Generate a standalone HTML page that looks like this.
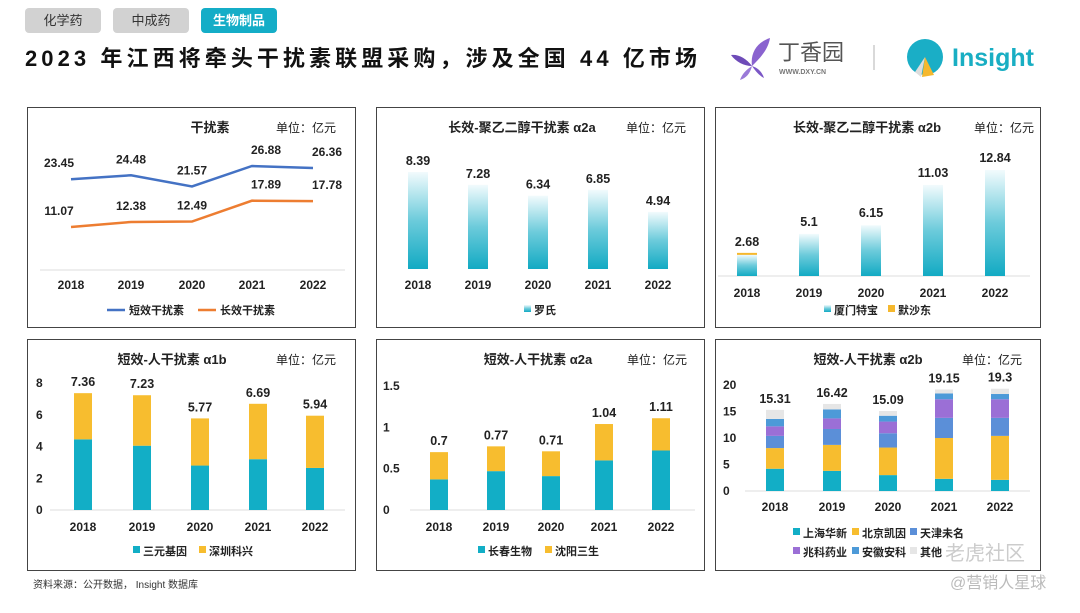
<!DOCTYPE html>
<html><head><meta charset="utf-8">
<style>
html,body{margin:0;padding:0;background:#fff;}
body{width:1080px;height:608px;overflow:hidden;font-family:"Liberation Sans","Noto Sans CJK SC",sans-serif;}
svg text{font-family:"Liberation Sans","Noto Sans CJK SC",sans-serif;}
</style></head>
<body>
<svg id="s" width="1080" height="608" viewBox="0 0 1080 608" xmlns="http://www.w3.org/2000/svg">
<defs>
<linearGradient id="tg" x1="0" y1="1" x2="0" y2="0">
<stop offset="0" stop-color="#12aac3"/><stop offset="0.5" stop-color="#6ccbdb"/><stop offset="1" stop-color="#f2fbfd"/>
</linearGradient>
</defs>
<g><rect x="25" y="8" width="76" height="25" rx="4" fill="#d2d2d2"/><text x="63" y="25" font-size="13" text-anchor="middle" fill="#333">化学药</text></g>
<g><rect x="113" y="8" width="76" height="25" rx="4" fill="#d2d2d2"/><text x="151" y="25" font-size="13" text-anchor="middle" fill="#333">中成药</text></g>
<g><rect x="201" y="8" width="76" height="25" rx="4" fill="#14adc7"/><text x="239" y="25" font-size="13" font-weight="bold" text-anchor="middle" fill="#fff">生物制品</text></g>
<text x="25" y="66" font-size="22" font-weight="bold" fill="#111" textLength="672" lengthAdjust="spacing">2023 年江西将牵头干扰素联盟采购，涉及全国 44 亿市场</text>
<g>
<path d="M770,38 C758,42 750,52 752,66 C760,58 768,50 770,38Z" fill="#8a63cf"/>
<path d="M752,66 C746,58 738,54 731,55 C736,62 744,66 752,66Z" fill="#6e4bb8"/>
<path d="M752,66 C746,70 742,74 740,80 C746,78 750,74 752,66Z" fill="#9a7ad8"/>
<path d="M752,66 C756,72 760,76 764,78 C762,72 758,68 752,66Z" fill="#7b57c6"/>
<text x="778" y="60" font-size="22" fill="#555">丁香园</text>
<text x="779" y="74" font-size="7" font-weight="bold" fill="#777">WWW.DXY.CN</text>
</g>
<line x1="874" y1="45" x2="874" y2="70" stroke="#ccc" stroke-width="1.5"/>
<g>
<circle cx="925" cy="57" r="18" fill="#1aaec6"/>
<path d="M925,57 L921,77 L915,72Z" fill="#ddd"/>
<path d="M925,57 L934,75 L922,77Z" fill="#f5b82e"/>
<text x="952" y="66" font-size="25" font-weight="bold" fill="#19aec3">Insight</text>
</g>
<rect x="27.5" y="107.5" width="328" height="220" fill="none" stroke="#444"/>
<rect x="376.5" y="107.5" width="328" height="220" fill="none" stroke="#444"/>
<rect x="715.5" y="107.5" width="325" height="220" fill="none" stroke="#444"/>
<rect x="27.5" y="339.5" width="328" height="231" fill="none" stroke="#444"/>
<rect x="376.5" y="339.5" width="328" height="231" fill="none" stroke="#444"/>
<rect x="715.5" y="339.5" width="325" height="231" fill="none" stroke="#444"/>
<text x="33" y="588" font-size="10" fill="#333">资料来源：公开数据， Insight 数据库</text>
<text x="950" y="588" font-size="16" fill="#bbb">@营销人星球</text>
<text x="945" y="560" font-size="20" fill="#ccc">老虎社区</text>
<g id="charts"></g>
</svg>
<script>
const years = ["2018","2019","2020","2021","2022"];
const shortIfn = [23.45,24.48,21.57,26.88,26.36];
const longIfn = [11.07,12.38,12.49,17.89,17.78];
const rocheA2a = [8.39,7.28,6.34,6.85,4.94];
const amoytopA2b = [2.58,5.1,6.15,11.03,12.84];
const msdA2b = [0.10,0,0,0,0];
const p3Totals = [2.68,5.1,6.15,11.03,12.84];
const sanyuan = [4.45,4.05,2.8,3.2,2.65];
const kexing = [2.91,3.18,2.97,3.49,3.29];
const p4Totals = [7.36,7.23,5.77,6.69,5.94];
const p4Ticks = [0,2,4,6,8];
const changchun = [0.37,0.47,0.41,0.6,0.72];
const shenyang = [0.33,0.30,0.30,0.44,0.39];
const p5Totals = [0.7,0.77,0.71,1.04,1.11];
const p5Ticks = [0,0.5,1,1.5];
const p5TickLabels = ["0","0.5","1","1.5"];
const shHuaxin = [4.2,3.8,3.0,2.3,2.1];
const bjKaiyin = [3.9,4.9,5.2,7.7,8.3];
const tjWeiming = [2.3,3.0,2.7,3.8,3.4];
const zhaoke = [1.8,2.0,2.2,3.5,3.5];
const ahAnke = [1.4,1.7,1.1,1.1,1.0];
const others = [1.71,1.02,0.89,0.75,1.0];
const p6Totals = [15.31,16.42,15.09,19.15,19.3];
const p6Ticks = [0,5,10,15,20];

const NS="http://www.w3.org/2000/svg";
const root=document.getElementById('charts');
function mk(tag,attrs,parent){const e=document.createElementNS(NS,tag);for(const k in attrs)e.setAttribute(k,attrs[k]);(parent||root).appendChild(e);return e;}
function txt(x,y,s,size,opts,parent){const t=mk('text',Object.assign({x:x,y:y,'font-size':size,'font-weight':'bold','text-anchor':'middle',fill:'#222'},opts||{}),parent);t.textContent=s;return t;}
function lin(d0,d1,r0,r1){return v=>r0+(v-d0)*(r1-r0)/(d1-d0);}

function header(cx,title,unitX,y){
  const t=txt(cx,y,title,13);
  
  
  const u=txt(unitX,y,'单位：亿元',12,{'font-weight':'normal','text-anchor':'start'});
  
  
}
function xlabels(xs,y){years.forEach((yr,i)=>{const t=txt(xs[i],y,yr,12);});}
function legend(items,y){items.forEach(it=>{
  const g=mk('g',{});
  
  
  if(it.line){mk('line',{x1:it.x,y1:y-4,x2:it.x+18,y2:y-4,stroke:it.c,'stroke-width':2.5},g);txt(it.x+22,y,it.t,11,{'text-anchor':'start'},g);}
  else{mk('rect',{x:it.x,y:y-9,width:7,height:7,fill:it.c},g);txt(it.x+10,y,it.t,11,{'text-anchor':'start'},g);}
});}
function stacked(xs,series,colors,names,ys,w,totals){
  years.forEach((yr,i)=>{let acc=0;series.forEach((s,k)=>{const v=s[i];if(v<=0)return;const y0=ys(acc),y1=ys(acc+v);
    const r=mk('rect',{x:xs[i]-w/2,y:y1,width:w,height:y0-y1,fill:colors[k]});
    
    
    acc+=v;});
    const t=txt(xs[i],ys(totals[i])-7,String(totals[i]),12.5);
    
    
  });
}
function yticks(ticks,labels,ys,x){ticks.forEach((v,i)=>{const t=txt(x,ys(v)+4,labels[i],12,{'text-anchor':'start'});});}

(function(){
  const xs=[71,131,192,252,313];
  const ys=lin(11.07,26.88,227,166);
  const offs=[-12,0,0,14,14];
  header(210,'干扰素',276,132);
  [[shortIfn,'#4472c4','short'],[longIfn,'#ed7d31','long']].forEach(([d,c,n])=>{
    const p=mk('polyline',{points:d.map((v,i)=>xs[i]+','+ys(v)).join(' '),fill:'none',stroke:c,'stroke-width':2.5});
    
    
    d.forEach((v,i)=>{const t=txt(xs[i]+offs[i],ys(v)-12,String(v),12);});
  });
  mk('line',{x1:40,y1:270,x2:345,y2:270,stroke:'#ddd'});
  xlabels(xs,289);
  legend([{x:107,t:'短效干扰素',c:'#4472c4',line:1,n:'short'},{x:198,t:'长效干扰素',c:'#ed7d31',line:1,n:'long'}],314);
})();

(function(){
  const xs=[418,478,538,598,658];
  const ys=lin(0,8.39,269,172);
  header(522,'长效-聚乙二醇干扰素 α2a',626,132);
  rocheA2a.forEach((v,i)=>{const r=mk('rect',{x:xs[i]-10,y:ys(v),width:20,height:ys(0)-ys(v),fill:'url(#tg)'});
    
    const t=txt(xs[i],ys(v)-7,String(v),12.5);});
  xlabels(xs,289);
  legend([{x:524,t:'罗氏',c:'url(#tg)',n:'roche'}],314);
})();

(function(){
  const xs=[747,809,871,933,995];
  const ys=lin(0,12.84,276,170);
  header(867,'长效-聚乙二醇干扰素 α2b',974,132);
  mk('line',{x1:718,y1:276,x2:1030,y2:276,stroke:'#ddd'});
  years.forEach((yr,i)=>{const a=amoytopA2b[i];
    const r=mk('rect',{x:xs[i]-10,y:ys(a),width:20,height:ys(0)-ys(a),fill:'url(#tg)'});
    
    if(msdA2b[i]>0){const m=mk('rect',{x:xs[i]-10,y:ys(a+msdA2b[i])-1,width:20,height:Math.max(2,ys(a)-ys(a+msdA2b[i])),fill:'#f5b82e'});
      }
    const t=txt(xs[i],ys(p3Totals[i])-8,String(p3Totals[i]),12.5);});
  xlabels(xs,297);
  legend([{x:824,t:'厦门特宝',c:'url(#tg)',n:'amoytop'},{x:888,t:'默沙东',c:'#f5b82e',n:'msd'}],314);
})();

(function(){
  const xs=[83,142,200,258,315];
  const ys=lin(0,8,510,383);
  header(172,'短效-人干扰素 α1b',276,364);
  mk('line',{x1:50,y1:510,x2:345,y2:510,stroke:'#ddd'});
  yticks(p4Ticks,p4Ticks.map(String),ys,36);
  stacked(xs,[sanyuan,kexing],['#12aec6','#f7bd2f'],['sanyuan','kexing'],ys,18,p4Totals);
  xlabels(xs,531);
  legend([{x:133,t:'三元基因',c:'#12aec6',n:'sanyuan'},{x:199,t:'深圳科兴',c:'#f7bd2f',n:'kexing'}],555);
})();

(function(){
  const xs=[439,496,551,604,661];
  const ys=lin(0,1.5,510,386);
  header(538,'短效-人干扰素 α2a',627,364);
  mk('line',{x1:410,y1:510,x2:695,y2:510,stroke:'#ddd'});
  yticks(p5Ticks,p5TickLabels,ys,383);
  stacked(xs,[changchun,shenyang],['#12aec6','#f7bd2f'],['changchun','shenyang'],ys,18,p5Totals);
  xlabels(xs,531);
  legend([{x:478,t:'长春生物',c:'#12aec6',n:'changchun'},{x:545,t:'沈阳三生',c:'#f7bd2f',n:'shenyang'}],555);
})();

(function(){
  const xs=[775,832,888,944,1000];
  const ys=lin(0,20,491,385);
  header(868,'短效-人干扰素 α2b',962,364);
  mk('line',{x1:745,y1:491,x2:1030,y2:491,stroke:'#ddd'});
  yticks(p6Ticks,p6Ticks.map(String),ys,723);
  stacked(xs,[shHuaxin,bjKaiyin,tjWeiming,zhaoke,ahAnke,others],['#12aec6','#f7bd2f','#5b8fd8','#9b6fd6','#4d9ad8','#e6e6e6'],['shanghai-huaxin','beijing-kaiyin','tianjin-weiming','zhaoke','anhui-anke','others'],ys,18,p6Totals);
  xlabels(xs,511);
  legend([{x:793,t:'上海华新',c:'#12aec6',n:'shanghai-huaxin'},{x:852,t:'北京凯因',c:'#f7bd2f',n:'beijing-kaiyin'},{x:910,t:'天津未名',c:'#5b8fd8',n:'tianjin-weiming'}],537);
  legend([{x:793,t:'兆科药业',c:'#9b6fd6',n:'zhaoke'},{x:852,t:'安徽安科',c:'#4d9ad8',n:'anhui-anke'},{x:910,t:'其他',c:'#e6e6e6',n:'others'}],556);
})();
</script>
</body></html>
